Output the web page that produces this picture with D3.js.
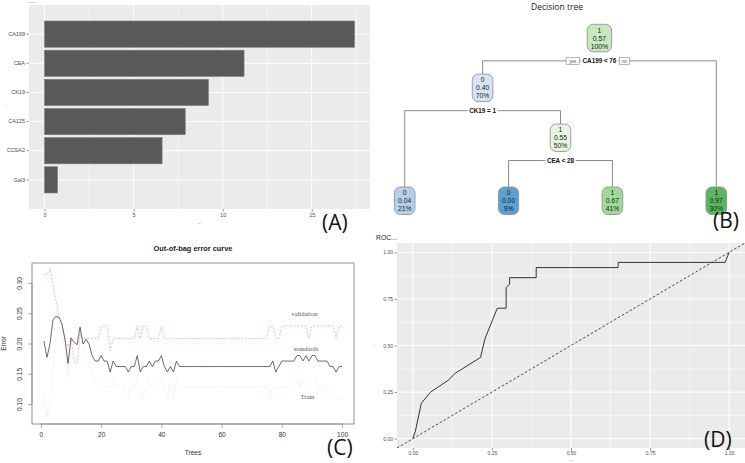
<!DOCTYPE html>
<html>
<head>
<meta charset="utf-8">
<script src="https://cdn.jsdelivr.net/npm/d3@7"></script>
<style>
  body { margin: 0; background: #fff; }
  svg { display: block; font-family: "Liberation Sans", Arial, sans-serif; }
</style>
</head>
<body>
<svg width="745" height="463"></svg>
<script>
// ---- (A) variable importance ----
var impVars = ["CA199", "CEA", "CK19", "CA125", "CCSA2", "Gal3"];
var impVals = [17.4, 11.2, 9.2, 7.9, 6.6, 0.73];
var impTicks = [0, 5, 10, 15];

// ---- (B) decision tree (rpart) ----
var nodeIds    = ["n0", "n1", "n2", "n3", "n4", "n5", "n6"];
var nodeParent = ["",   "n0", "n1", "n1", "n3", "n3", "n0"];
var nodeClass  = ["1",  "0",  "0",  "1",  "0",  "1",  "1"];
var nodeProb   = ["0.57", "0.40", "0.04", "0.55", "0.00", "0.67", "0.97"];
var nodePct    = ["100%", "70%", "21%", "50%", "9%", "41%", "30%"];
var splitNode  = ["n0", "n1", "n3"];
var splitText  = ["CA199 < 76", "CK19 = 1", "CEA < 28"];

// ---- (C) out-of-bag error ----
var trees = d3.range(1, 101);
var errStandards = [
  0.204, 0.177, 0.199, 0.239, 0.245, 0.243, 0.232, 0.207, 0.167, 0.209,
  0.202, 0.198, 0.227, 0.199, 0.207, 0.199, 0.180, 0.171, 0.171, 0.180,
  0.171, 0.171, 0.153, 0.171, 0.162, 0.162, 0.162, 0.162, 0.153, 0.162,
  0.162, 0.180, 0.153, 0.162, 0.162, 0.171, 0.162, 0.171, 0.171, 0.180,
  0.162, 0.153, 0.162, 0.153, 0.171, 0.162, 0.162, 0.162, 0.162, 0.162,
  0.162, 0.162, 0.162, 0.162, 0.162, 0.162, 0.162, 0.162, 0.162, 0.162,
  0.162, 0.162, 0.162, 0.162, 0.162, 0.162, 0.162, 0.162, 0.162, 0.162,
  0.162, 0.162, 0.162, 0.162, 0.162, 0.162, 0.171, 0.153, 0.162, 0.171,
  0.171, 0.171, 0.171, 0.171, 0.180, 0.180, 0.171, 0.180, 0.171, 0.180,
  0.180, 0.171, 0.171, 0.171, 0.171, 0.162, 0.162, 0.153, 0.162, 0.162
];
var errValidation = [
  0.314, 0.314, 0.323, 0.300, 0.270, 0.245, 0.230, 0.205, 0.195, 0.210,
  0.170, 0.167, 0.215, 0.208, 0.208, 0.208, 0.208, 0.208, 0.208, 0.229,
  0.229, 0.229, 0.188, 0.208, 0.208, 0.208, 0.208, 0.208, 0.208, 0.208,
  0.208, 0.229, 0.208, 0.229, 0.229, 0.208, 0.208, 0.208, 0.208, 0.229,
  0.208, 0.208, 0.208, 0.208, 0.208, 0.208, 0.208, 0.208, 0.208, 0.208,
  0.208, 0.208, 0.208, 0.208, 0.208, 0.208, 0.208, 0.208, 0.208, 0.208,
  0.208, 0.208, 0.208, 0.208, 0.208, 0.208, 0.208, 0.208, 0.208, 0.208,
  0.208, 0.208, 0.208, 0.208, 0.208, 0.229, 0.229, 0.208, 0.208, 0.229,
  0.229, 0.229, 0.229, 0.229, 0.229, 0.229, 0.229, 0.229, 0.208, 0.229,
  0.229, 0.229, 0.229, 0.229, 0.229, 0.229, 0.229, 0.208, 0.229, 0.229
];
var errTrain = [
  0.119, 0.077, 0.110, 0.160, 0.210, 0.228, 0.222, 0.190, 0.145, 0.200,
  0.212, 0.220, 0.224, 0.200, 0.180, 0.160, 0.150, 0.142, 0.142, 0.142,
  0.128, 0.128, 0.128, 0.142, 0.128, 0.128, 0.128, 0.119, 0.110, 0.128,
  0.128, 0.142, 0.110, 0.110, 0.128, 0.142, 0.128, 0.142, 0.142, 0.142,
  0.128, 0.110, 0.128, 0.110, 0.142, 0.128, 0.128, 0.128, 0.128, 0.128,
  0.128, 0.128, 0.128, 0.128, 0.128, 0.128, 0.128, 0.128, 0.128, 0.128,
  0.128, 0.128, 0.128, 0.128, 0.128, 0.128, 0.128, 0.128, 0.128, 0.128,
  0.128, 0.128, 0.128, 0.128, 0.128, 0.110, 0.128, 0.128, 0.128, 0.128,
  0.128, 0.128, 0.128, 0.142, 0.142, 0.128, 0.142, 0.142, 0.142, 0.142,
  0.142, 0.128, 0.128, 0.128, 0.128, 0.110, 0.110, 0.110, 0.110, 0.110
];
var oobXTicks = [0, 20, 40, 60, 80, 100];
var oobYTicks = [0.10, 0.15, 0.20, 0.25, 0.30];
var oobLabels = ["validation", "standards", "Train"];
var oobLabelX = [87.5, 88, 88.5];
var oobLabelY = [0.245, 0.187, 0.108];

// ---- (D) ROC ----
var rocFpr = [0, 0.008, 0.027, 0.056, 0.114, 0.133, 0.214, 0.228, 0.267, 0.295, 0.295,
              0.306, 0.306, 0.390, 0.390, 0.649, 0.649, 0.987, 1];
var rocTpr = [0, 0.04, 0.19, 0.25, 0.316, 0.35, 0.436, 0.536, 0.70, 0.70, 0.81,
              0.83, 0.864, 0.864, 0.918, 0.918, 0.946, 0.946, 1];
var rocTicks = [0, 0.25, 0.5, 0.75, 1];

var svg = d3.select("svg");
var panelFill = "#ebebeb";

function panelLetter(x, y, txt) {
  svg.append("text").attr("x", x).attr("y", y)
    .attr("font-family", "'Open Sans', sans-serif").attr("font-size", 21)
    .attr("fill", "#111").text(txt);
}

// =============== (A) ===============
(function () {
  var L = 29, R = 370, T = 5, B = 209;
  var maxV = d3.max(impVals);
  var x = d3.scaleLinear().domain([-0.05 * maxV, 1.05 * maxV]).range([L, R]);
  var y = d3.scaleBand().domain(impVars).range([T, B]).paddingInner(0.1).paddingOuter(0.6 - 0.05);
  var g = svg.append("g");
  g.append("rect").attr("x", L).attr("y", T).attr("width", R - L).attr("height", B - T).attr("fill", panelFill);
  var minor = impTicks.map(function (t) { return t + 2.5; });
  g.selectAll(".mn").data(minor).enter().append("line")
    .attr("x1", x).attr("x2", x).attr("y1", T).attr("y2", B)
    .attr("stroke", "#fff").attr("stroke-width", 0.5);
  g.selectAll(".mj").data(impTicks).enter().append("line")
    .attr("x1", x).attr("x2", x).attr("y1", T).attr("y2", B)
    .attr("stroke", "#fff").attr("stroke-width", 1);
  g.selectAll(".hy").data(impVars).enter().append("line")
    .attr("x1", L).attr("x2", R)
    .attr("y1", function (d) { return y(d) + y.bandwidth() / 2; })
    .attr("y2", function (d) { return y(d) + y.bandwidth() / 2; })
    .attr("stroke", "#fff").attr("stroke-width", 1);
  g.selectAll(".bar").data(impVars).enter().append("rect")
    .attr("x", x(0)).attr("y", function (d) { return y(d); })
    .attr("width", function (d, i) { return x(impVals[i]) - x(0); })
    .attr("height", y.bandwidth())
    .attr("fill", "#595959").attr("stroke", "#7a7a7a").attr("stroke-width", 0.6);

  var ax = g.append("g").attr("transform", "translate(0," + B + ")")
    .call(d3.axisBottom(x).tickValues(impTicks).tickSize(2.5).tickPadding(1.5));
  var ay = g.append("g").attr("transform", "translate(" + L + ",0)")
    .call(d3.axisLeft(y).tickSize(2.5).tickPadding(1.5));
  [ax, ay].forEach(function (a) {
    a.select(".domain").remove();
    a.selectAll("line").attr("stroke", "#333").attr("stroke-width", 0.5);
    a.selectAll("text").attr("font-size", 5.5).attr("fill", "#4d4d4d").attr("font-family", "'Liberation Sans', Arial, sans-serif");
  });
  g.append("text").attr("x", 28).attr("y", 3).attr("font-size", 5).attr("fill", "#333").text("......");
  g.append("text").attr("x", (L + R) / 2).attr("y", 224).attr("text-anchor", "middle")
    .attr("font-size", 5).attr("fill", "#555").text("...");
  g.append("text").attr("x", 5).attr("y", 108).attr("font-size", 5).attr("fill", "#555").text(":");
  panelLetter(322, 230, "(A)");
})();

// =============== (B) ===============
(function () {
  var rows = nodeIds.map(function (id, i) {
    return { id: id, parent: nodeParent[i] || null, cls: nodeClass[i], prob: nodeProb[i], pct: nodePct[i] };
  });
  var root = d3.stratify().id(function (d) { return d.id; }).parentId(function (d) { return d.parent; })(rows);
  var leaves = root.leaves();
  var xLeaf = d3.scalePoint().domain(leaves.map(function (d) { return d.id; })).range([404.7, 716.3]);
  var yLevel = d3.scaleLinear().domain([0, 2]).range([24.3, 124]);
  var leafTop = 187;
  var boxH = 27.5;
  root.eachAfter(function (n) {
    n.x = n.children ? d3.mean(n.children, function (c) { return c.x; }) : xLeaf(n.id);
    n.top = n.children ? yLevel(n.depth) : leafTop;
  });
  var fills = { n0: "#c7e9c0", n1: "#d5e5f4", n2: "#b3d2ea", n3: "#e5f5e0", n4: "#5aa1d1", n5: "#a1d99b", n6: "#5ab75f" };

  var g = svg.append("g");
  svg.append("text").attr("x", 557).attr("y", 9.5).attr("text-anchor", "middle")
    .attr("font-family", "'Open Sans', sans-serif").attr("font-size", 8.5).attr("fill", "#222")
    .text("Decision tree");

  var edgeCol = "#7f7f7f";
  var splitY = {};
  root.each(function (n) { if (n.children) splitY[n.id] = n.top + boxH + 9; });

  // edges
  root.each(function (n) {
    if (!n.children) return;
    var sy = splitY[n.id];
    var xs = n.children.map(function (c) { return c.x; });
    g.append("line").attr("x1", d3.min(xs)).attr("x2", d3.max(xs)).attr("y1", sy).attr("y2", sy)
      .attr("stroke", edgeCol).attr("stroke-width", 0.9);
    n.children.forEach(function (c) {
      g.append("line").attr("x1", c.x).attr("x2", c.x).attr("y1", sy).attr("y2", c.top)
        .attr("stroke", edgeCol).attr("stroke-width", 0.9);
    });
  });

  // split labels
  splitNode.forEach(function (id, i) {
    var n = root.find(function (d) { return d.id === id; });
    var t = g.append("text").attr("x", n.x).attr("y", splitY[id] + 2.3).attr("text-anchor", "middle")
      .attr("font-size", 6.3).attr("font-weight", "bold").attr("fill", "#111").text(splitText[i]);
    var w = t.node().getComputedTextLength();
    g.insert("rect", "text").attr("x", n.x - w / 2 - 1.5).attr("y", splitY[id] - 4).attr("width", w + 3).attr("height", 8)
      .attr("fill", "#fff");
    if (i === 0) {
      [["yes", -1], ["no", 1]].forEach(function (p) {
        var bw = p[0] === "yes" ? 13.5 : 10;
        var cx = n.x + p[1] * (w / 2 + 3 + bw / 2);
        g.append("rect").attr("x", cx - bw / 2).attr("y", splitY[id] - 3.5).attr("width", bw).attr("height", 7)
          .attr("fill", "#fff").attr("stroke", "#888").attr("stroke-width", 0.6);
        g.append("text").attr("x", cx).attr("y", splitY[id] + 1.8).attr("text-anchor", "middle")
          .attr("font-size", 4.6).attr("fill", "#555").text(p[0]);
      });
    }
  });

  // nodes
  root.each(function (n) {
    var ng = g.append("g");
    var lines = [n.data.cls, n.data.prob, n.data.pct];
    var texts = lines.map(function (s, k) {
      return ng.append("text").attr("x", n.x).attr("y", n.top + 8.2 + k * 8).attr("text-anchor", "middle")
        .attr("font-size", 6.8).attr("fill", "#1a1a1a").text(s);
    });
    var w = Math.max(20, d3.max(texts, function (t) { return t.node().getComputedTextLength(); }) + 7);
    ng.insert("rect", "text").attr("x", n.x - w / 2).attr("y", n.top).attr("width", w).attr("height", boxH)
      .attr("rx", 6).attr("ry", 6)
      .attr("fill", fills[n.id]).attr("stroke", "#8a8a8a").attr("stroke-width", 0.8);
  });
  panelLetter(713, 228, "(B)");
})();

// =============== (C) ===============
(function () {
  var L = 32, R = 354, T = 263, B = 424;
  var xe = d3.extent(trees), xr = xe[1] - xe[0];
  var all = errStandards.concat(errValidation, errTrain);
  var ye = d3.extent(all), yr = ye[1] - ye[0];
  var x = d3.scaleLinear().domain([xe[0] - 0.04 * xr, xe[1] + 0.04 * xr]).range([L, R]);
  var y = d3.scaleLinear().domain([ye[0] - 0.04 * yr, ye[1] + 0.04 * yr]).range([B, T]);
  var g = svg.append("g");

  var line = function (vals) {
    return d3.line().x(function (d, i) { return x(trees[i]); }).y(function (d) { return y(d); })(vals);
  };
  g.append("path").attr("d", line(errTrain)).attr("fill", "none")
    .attr("stroke", "#bfeebb").attr("stroke-width", 0.8).attr("stroke-dasharray", "0.9,1.6");
  g.append("path").attr("d", line(errValidation)).attr("fill", "none")
    .attr("stroke", "#f29ab0").attr("stroke-width", 0.75).attr("stroke-dasharray", "2,1.6");
  g.append("path").attr("d", line(errStandards)).attr("fill", "none")
    .attr("stroke", "#3a3a3a").attr("stroke-width", 0.75);

  g.append("rect").attr("x", L).attr("y", T).attr("width", R - L).attr("height", B - T)
    .attr("fill", "none").attr("stroke", "#777").attr("stroke-width", 0.8);

  var ax = g.append("g").attr("transform", "translate(0," + B + ")")
    .call(d3.axisBottom(x).tickValues(oobXTicks).tickSize(4).tickPadding(4));
  var ay = g.append("g").attr("transform", "translate(" + L + ",0)")
    .call(d3.axisLeft(y).tickValues(oobYTicks).tickFormat(d3.format(".2f")).tickSize(4).tickPadding(2));
  [ax, ay].forEach(function (a) {
    a.select(".domain").attr("stroke", "#777").attr("stroke-width", 0.6)
      .attr("d", a === ax ? "M" + x(0) + ",0H" + x(100) : "M0," + y(0.10) + "V" + y(0.30));
    a.selectAll("line").attr("stroke", "#777").attr("stroke-width", 0.6);
    a.selectAll("text").attr("font-size", 6.6).attr("fill", "#333");
  });
  ay.selectAll(".tick text")
    .attr("text-anchor", "middle").attr("x", 0).attr("dy", 0)
    .attr("transform", "translate(-10,0) rotate(-90)");

  oobLabels.forEach(function (s, i) {
    g.append("text").attr("x", x(oobLabelX[i])).attr("y", y(oobLabelY[i])).attr("text-anchor", "middle")
      .attr("font-family", "'Liberation Serif', serif").attr("font-size", 6.5).attr("fill", "#555").text(s);
  });
  svg.append("text").attr("x", 193).attr("y", 251).attr("text-anchor", "middle")
    .attr("font-size", 7.4).attr("font-weight", "bold").attr("fill", "#222").text("Out-of-bag error curve");
  svg.append("text").attr("x", 193).attr("y", 455).attr("text-anchor", "middle")
    .attr("font-size", 6.6).attr("fill", "#333").text("Trees");
  svg.append("text").attr("transform", "translate(6," + ((T + B) / 2) + ") rotate(-90)")
    .attr("text-anchor", "middle").attr("font-size", 6.6).attr("fill", "#333").text("Error");
  panelLetter(327, 455, "(C)");
})();

// =============== (D) ===============
(function () {
  var L = 397, R = 745, T = 243, B = 448;
  var x = d3.scaleLinear().domain([-0.05, 1.05]).range([L, R]);
  var y = d3.scaleLinear().domain([-0.05, 1.05]).range([B, T]);
  var g = svg.append("g");
  g.append("defs").append("clipPath").attr("id", "clipD").append("rect")
    .attr("x", L).attr("y", T).attr("width", R - L).attr("height", B - T);
  g.append("rect").attr("x", L).attr("y", T).attr("width", R - L).attr("height", B - T).attr("fill", panelFill);
  var minor = rocTicks.slice(1).map(function (t) { return t - 0.125; });
  g.selectAll(".mnx").data(minor).enter().append("line")
    .attr("x1", x).attr("x2", x).attr("y1", T).attr("y2", B).attr("stroke", "#fff").attr("stroke-width", 0.5);
  g.selectAll(".mny").data(minor).enter().append("line")
    .attr("y1", y).attr("y2", y).attr("x1", L).attr("x2", R).attr("stroke", "#fff").attr("stroke-width", 0.5);
  g.selectAll(".mjx").data(rocTicks).enter().append("line")
    .attr("x1", x).attr("x2", x).attr("y1", T).attr("y2", B).attr("stroke", "#fff").attr("stroke-width", 1);
  g.selectAll(".mjy").data(rocTicks).enter().append("line")
    .attr("y1", y).attr("y2", y).attr("x1", L).attr("x2", R).attr("stroke", "#fff").attr("stroke-width", 1);

  g.append("line").attr("clip-path", "url(#clipD)")
    .attr("x1", x(-0.05)).attr("y1", y(-0.05)).attr("x2", x(1.05)).attr("y2", y(1.05))
    .attr("stroke", "#333").attr("stroke-width", 0.9).attr("stroke-dasharray", "2.5,2");
  var pts = rocFpr.map(function (f, i) { return [f, rocTpr[i]]; });
  g.append("path").attr("d", d3.line().x(function (d) { return x(d[0]); }).y(function (d) { return y(d[1]); })(pts))
    .attr("fill", "none").attr("stroke", "#333").attr("stroke-width", 1);

  var ax = g.append("g").attr("transform", "translate(0," + B + ")")
    .call(d3.axisBottom(x).tickValues(rocTicks).tickFormat(d3.format(".2f")).tickSize(2.5).tickPadding(1));
  var ay = g.append("g").attr("transform", "translate(" + L + ",0)")
    .call(d3.axisLeft(y).tickValues(rocTicks).tickFormat(d3.format(".2f")).tickSize(2.5).tickPadding(1.5));
  [ax, ay].forEach(function (a) {
    a.select(".domain").remove();
    a.selectAll("line").attr("stroke", "#333").attr("stroke-width", 0.5);
    a.selectAll("text").attr("font-size", 5).attr("fill", "#4d4d4d");
  });
  svg.append("text").attr("x", 376).attr("y", 240).attr("font-size", 6.8).attr("fill", "#222").text("ROC...");
  svg.append("text").attr("x", (L + R) / 2).attr("y", 461).attr("text-anchor", "middle")
    .attr("font-size", 5).attr("fill", "#555").text("...");
  svg.append("text").attr("x", 373).attr("y", 347).attr("font-size", 5).attr("fill", "#555").text(":");
  panelLetter(704, 447, "(D)");
})();
</script>
</body>
</html>
